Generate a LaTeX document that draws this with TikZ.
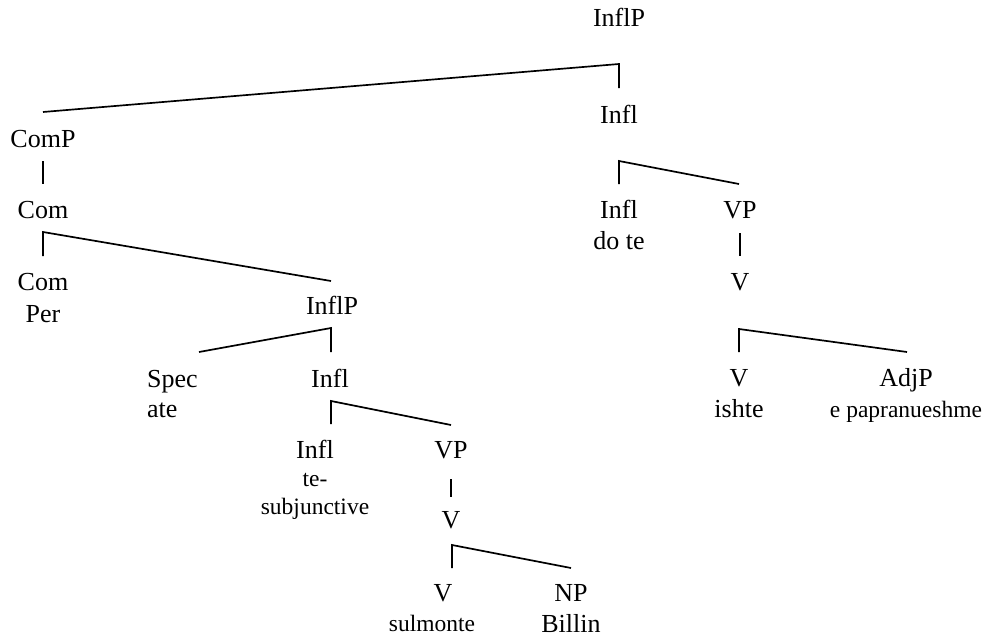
\documentclass[tikz,border=0pt]{standalone}
\usepackage{fontspec}
\setmainfont{Liberation Serif}
\begin{document}
\begin{tikzpicture}[x=1pt,y=-1pt,
  lbl/.style={inner sep=0pt,anchor=base,font=\fontsize{26}{28}\selectfont},
  sml/.style={inner sep=0pt,anchor=base,font=\fontsize{23.5}{26}\selectfont},
  branch/.style={draw=black,line width=1.7pt,line join=miter}]
\useasboundingbox (0,0) rectangle (989,637);

% category labels and words
\node[lbl] (root) at (619,27) {InflP};
\node[lbl] (inflA) at (619,123) {Infl};
\node[lbl] (comp) at (43,147) {ComP};
\node[lbl] (com) at (43,218) {Com};
\node[lbl] (comH) at (43,290) {Com};
\node[lbl] (per) at (43,322) {Per};
\node[lbl] (inflpB) at (332,314) {InflP};
\node[lbl,anchor=base west] (spec) at (147,387) {Spec};
\node[lbl,anchor=base west] (ate) at (147,417) {ate};
\node[lbl] (inflB) at (330,387) {Infl};
\node[lbl] (inflBH) at (315,458) {Infl};
\node[sml] (te) at (315,486) {te-};
\node[sml] (subj) at (315,514) {subjunctive};
\node[lbl] (vpB) at (451,458) {VP};
\node[lbl] (vB) at (451,528) {V};
\node[lbl] (vBH) at (443,601) {V};
\node[sml] (sulm) at (432,631) {sulmonte};
\node[lbl] (np) at (571,601) {NP};
\node[lbl] (billin) at (571,632) {Billin};
\node[lbl] (inflAH) at (619,218) {Infl};
\node[lbl] (dote) at (619,249) {do te};
\node[lbl] (vpA) at (740,218) {VP};
\node[lbl] (vA) at (740,290) {V};
\node[lbl] (vAH) at (739,386) {V};
\node[lbl] (ishte) at (739,417) {ishte};
\node[lbl] (adjp) at (906,386) {AdjP};
\node[sml] (pap) at (906,417) {e papranueshme};

% branch end points
\coordinate (r-l) at (43,112);
\coordinate (r-c) at (619,64);
\coordinate (r-r) at (619,88);
\coordinate (cp-t) at (43,161);
\coordinate (cp-b) at (43,184);
\coordinate (c-l) at (43,256);
\coordinate (c-c) at (43,232);
\coordinate (c-r) at (331,281);
\coordinate (ib-l) at (199,352);
\coordinate (ib-c) at (331,328);
\coordinate (ib-r) at (331,352);
\coordinate (ic-l) at (331,424);
\coordinate (ic-c) at (331,401);
\coordinate (ic-r) at (451,425);
\coordinate (vpb-t) at (451,479);
\coordinate (vpb-b) at (451,497);
\coordinate (vb-l) at (452,568);
\coordinate (vb-c) at (452,545);
\coordinate (vb-r) at (571,568);
\coordinate (ia-l) at (619,184);
\coordinate (ia-c) at (619,161);
\coordinate (ia-r) at (739,184);
\coordinate (vpa-t) at (740,233);
\coordinate (vpa-b) at (740,256);
\coordinate (va-l) at (739,352);
\coordinate (va-c) at (739,329);
\coordinate (va-r) at (907,352);

% branches
\draw[branch] (r-l) -- (r-c) -- (r-r);
\draw[branch] (cp-t) -- (cp-b);
\draw[branch] (c-l) -- (c-c) -- (c-r);
\draw[branch] (ib-l) -- (ib-c) -- (ib-r);
\draw[branch] (ic-l) -- (ic-c) -- (ic-r);
\draw[branch] (vpb-t) -- (vpb-b);
\draw[branch] (vb-l) -- (vb-c) -- (vb-r);
\draw[branch] (ia-l) -- (ia-c) -- (ia-r);
\draw[branch] (vpa-t) -- (vpa-b);
\draw[branch] (va-l) -- (va-c) -- (va-r);
\end{tikzpicture}
\end{document}
